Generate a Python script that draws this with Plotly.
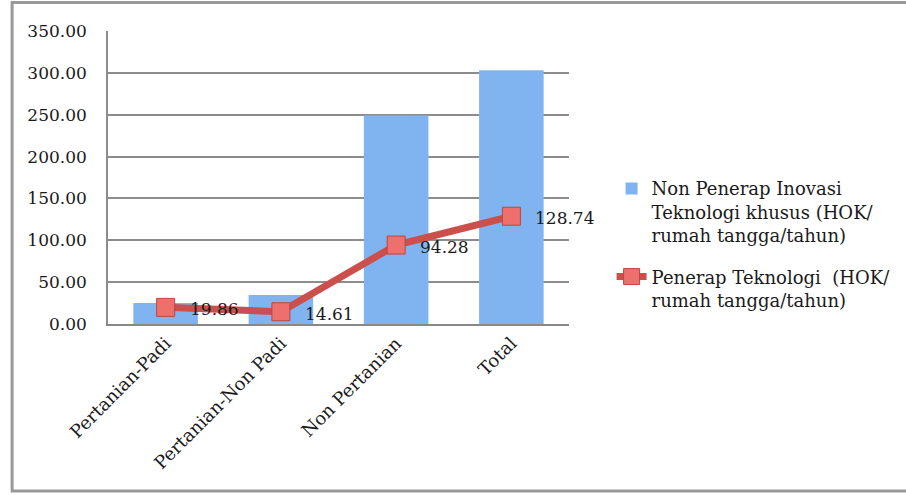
import plotly.graph_objects as go

categories = ["Pertanian-Padi", "Pertanian-Non Padi", "Non Pertanian", "Total"]
non_penerap = [25.0, 34.5, 249.0, 303.0]
penerap = [19.86, 14.61, 94.28, 128.74]
penerap_labels = ["19.86", "14.61", "94.28", "128.74"]
tick_vals = [0, 50, 100, 150, 200, 250, 300, 350]
tick_text = ["0.00", "50.00", "100.00", "150.00", "200.00", "250.00", "300.00", "350.00"]

name_bar = "Non Penerap Inovasi<br>Teknologi khusus (HOK/<br>rumah tangga/tahun)"
name_line = "Penerap Teknologi  (HOK/<br>rumah tangga/tahun)"

FONT = "DejaVu Serif"
TXT = "#1a1a1a"

fig = go.Figure()
fig.add_trace(go.Bar(
    x=categories, y=non_penerap, name=name_bar, legendgroup="a",
    marker=dict(color="#80b4f0", line=dict(width=0)),
    width=0.56,
))
fig.add_trace(go.Scatter(
    x=categories, y=penerap, name=name_line, legendgroup="b",
    mode="lines+markers",
    line=dict(color="#cb4f4b", width=7),
    marker=dict(symbol="square", size=18, color="#ee706c",
                line=dict(color="#c0443f", width=1)),
    cliponaxis=False,
))
for cat, val, lab in zip(categories, penerap, penerap_labels):
    fig.add_annotation(x=cat, y=val, text=lab, showarrow=False,
                       xanchor="left", yanchor="middle", xshift=22, yshift=-2,
                       font=dict(family=FONT, size=17, color=TXT))

fig.update_layout(
    width=906, height=495,
    margin=dict(l=108, r=336, t=31, b=171),
    paper_bgcolor="white", plot_bgcolor="white",
    font=dict(family=FONT, size=17, color=TXT),
    showlegend=True,
    legend=dict(x=1.09, y=0.525, xanchor="left", yanchor="top", valign="top",
                font=dict(family=FONT, size=18, color=TXT),
                tracegroupgap=15, bgcolor="rgba(0,0,0,0)"),
)
fig.update_xaxes(
    tickangle=-45, showgrid=False, showline=True, linecolor="#888888",
    linewidth=1.5, ticks="", tickfont=dict(family=FONT, size=18, color=TXT),
    range=[-0.5, 3.5],
)
fig.update_yaxes(
    range=[0, 350], tickvals=tick_vals, ticktext=tick_text,
    showgrid=True, gridcolor="#8c8c8c", gridwidth=1.5,
    showline=True, linecolor="#8c8c8c", linewidth=1.5,
    zeroline=False, ticks="", ticklabelstandoff=16,
    tickfont=dict(family=FONT, size=17, color=TXT),
)
# outer frame of the chart
fig.add_shape(type="rect", xref="paper", yref="paper",
              x0=-0.208, x1=1.9, y0=-0.57, y1=1.097,
              line=dict(color="#999999", width=3), fillcolor="rgba(0,0,0,0)",
              layer="below")

fig.write_html("out.html")
